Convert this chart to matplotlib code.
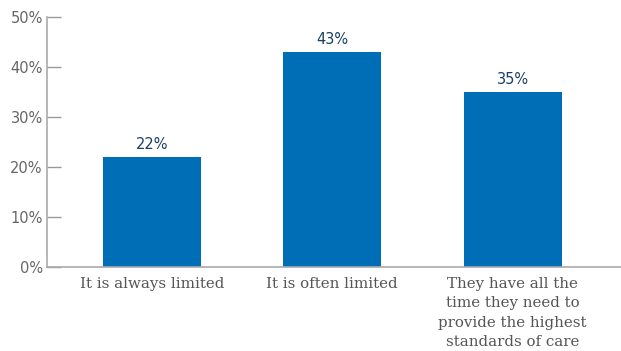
import matplotlib.pyplot as plt

categories = ["It is always limited", "It is often limited",
              "They have all the\ntime they need to\nprovide the highest\nstandards of care"]
values = [22, 43, 35]
yticks = [0, 10, 20, 30, 40, 50]

fig = plt.figure(figsize=(6.21, 3.51), dpi=100)
ax = fig.add_axes([0.0757, 0.239, 0.9243, 0.7126])

x = range(len(categories))
ax.bar(x, values, width=0.545, color="#006db7", zorder=2)
for i, v in zip(x, values):
    ax.text(i, v + 1.0, f"{v}%", ha="center", va="bottom",
            fontsize=10.5, color="#1b3f66")

ax.set_xlim(-0.58, 2.6)
ax.set_ylim(0, 50)
ax.set_yticks(yticks)
ax.set_yticklabels([f"{t}%" for t in yticks], fontsize=10.5, color="#666666")
ax.tick_params(axis="y", direction="in", length=10, width=1, color="#999999", pad=3)
ax.set_xticks(list(x))
ax.set_xticklabels(categories, fontsize=10.8, color="#555555", family="DejaVu Serif",
                   linespacing=1.5, va="top")
ax.tick_params(axis="x", length=0, pad=7)

for s in ["top", "right"]:
    ax.spines[s].set_visible(False)
for s in ["left", "bottom"]:
    ax.spines[s].set_color("#aaaaaa")
    ax.spines[s].set_linewidth(1.2)

fig.savefig("out.png", dpi=100)
